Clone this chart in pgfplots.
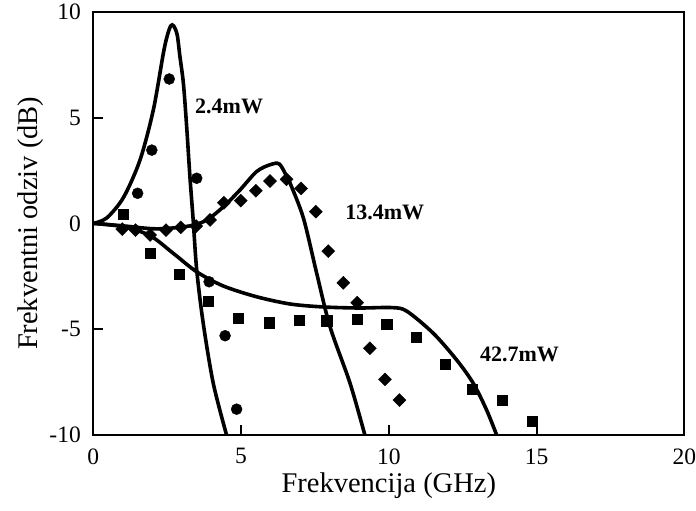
\documentclass[border=0pt]{standalone}
\usepackage{fontspec}
\setmainfont{Liberation Serif}
\usepackage{pgfplots}
\pgfplotsset{compat=1.18}
\begin{document}
\begin{tikzpicture}
\begin{axis}[
  at={(0,0)}, anchor=south west,
  scale only axis, width=591pt, height=423.3pt,
  xmin=0, xmax=20, ymin=-10, ymax=10,
  xtick={0,5,10,15,20}, ytick={-10,-5,0,5,10},
  tick pos=left, tick align=inside, major tick length=10pt,
  axis line style={line width=2.2pt},
  every tick/.style={black, line width=2pt},
  /pgf/number format/assume math mode=true,
  tick label style={font=\fontsize{23.5}{23.5}\selectfont},
  xticklabel style={yshift=-10pt},
  yticklabel style={xshift=-9pt},
  label style={font=\fontsize{28.5}{28.5}\selectfont},
  xlabel={Frekvencija (GHz)},
  ylabel={Frekventni odziv (dB)},
  xlabel style={at={(axis description cs:0.5,-0.1347)}, anchor=base},
  ylabel style={at={(axis description cs:-0.0941,0.5)}, anchor=base},
  clip=true,
]
% 2.4 mW fit
\addplot[black, line width=3.6pt, smooth, tension=0.5] coordinates {
(0,0) (0.45,0.25) (1.02,1.22) (1.58,2.99) (2.03,5.35) (2.37,8.03) (2.50,8.85) (2.62,9.33) (2.72,9.33) (2.84,8.90) (2.93,7.9) (3.05,6.6) (3.16,4.56) (3.27,2.20) (3.38,0.16) (3.50,-2.21) (3.72,-4.72) (4.06,-7.56) (4.51,-10.0)
};
% 13.4 mW fit
\addplot[black, line width=3.6pt, smooth, tension=0.5] coordinates {
(0,0) (1.02,-0.12) (2.15,-0.26) (3.27,-0.12) (3.84,0.16) (4.40,0.78) (4.96,1.57) (5.53,2.45) (6.0,2.78) (6.3,2.8) (6.55,2.2) (6.66,1.9) (7.11,0.25) (7.56,-2.36) (8.01,-4.88) (8.69,-7.56) (9.19,-10.0)
};
% 42.7 mW fit
\addplot[black, line width=3.6pt, smooth, tension=0.5] coordinates {
(0,0) (1.02,-0.16) (1.92,-0.58) (2.71,-1.42) (3.50,-2.29) (4.40,-2.96) (5.53,-3.47) (6.66,-3.81) (7.78,-3.95) (9.0,-4.0) (10.1,-3.98) (10.61,-4.15) (11.51,-5.20) (12.30,-6.46) (12.86,-7.56) (13.31,-8.82) (13.65,-10.0)
};
% 2.4 mW measured
\addplot[only marks, mark=*, mark size=5.5pt, black] coordinates {
(1.50,1.42) (1.98,3.46) (2.57,6.82) (3.50,2.13) (3.92,-2.76) (4.46,-5.31) (4.85,-8.78)
};
% 13.4 mW measured
\addplot[only marks, mark=square*, mark size=4.6pt, mark options={rotate=45}, black] coordinates {
(0.98,-0.27) (1.43,-0.32) (1.92,-0.55) (2.46,-0.32) (2.96,-0.19) (3.48,-0.13) (3.95,0.16) (4.42,0.97) (4.99,1.07) (5.50,1.54) (5.98,2.0) (6.54,2.08) (7.03,1.65) (7.53,0.55) (7.95,-1.31) (8.46,-2.81) (8.93,-3.75) (9.36,-5.90) (9.87,-7.37) (10.36,-8.35)
};
% 42.7 mW measured
\addplot[only marks, mark=square*, mark size=5.2pt, black] coordinates {
(1.02,0.43) (1.92,-1.42) (2.91,-2.41) (3.89,-3.67) (4.91,-4.49) (5.96,-4.70) (6.96,-4.57) (7.90,-4.60) (8.93,-4.53) (9.93,-4.76) (10.92,-5.39) (11.90,-6.66) (12.83,-7.83) (13.84,-8.35) (14.86,-9.34)
};
\node[anchor=base west, font=\bfseries\fontsize{22}{22}\selectfont] at (axis cs:3.33,5.2) {2.4mW};
\node[anchor=base west, font=\bfseries\fontsize{22}{22}\selectfont] at (axis cs:8.41,0.16) {13.4mW};
\node[anchor=base west, font=\bfseries\fontsize{22}{22}\selectfont] at (axis cs:12.97,-6.54) {42.7mW};
\end{axis}
\pgfresetboundingbox
\path (-93.3pt,-76pt) rectangle (602.7pt,435pt);
\end{tikzpicture}
\end{document}
